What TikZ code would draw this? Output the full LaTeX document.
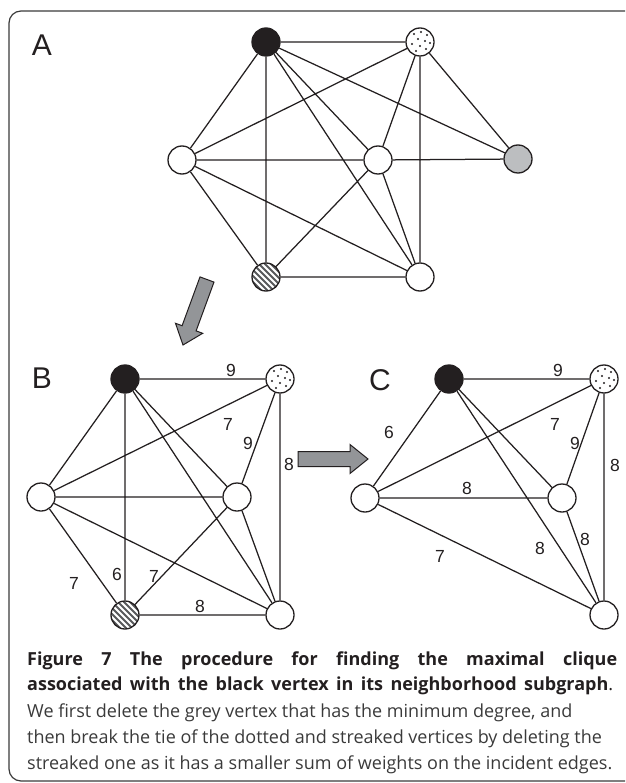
\documentclass[tikz,border=0pt]{standalone}
\usepackage{fontspec}
\setmainfont{Liberation Sans}
\newfontfamily\capfont{Open Sans}
\usetikzlibrary{calc}
\definecolor{ink}{HTML}{231F20}
\definecolor{vgrey}{HTML}{BCBEC0}
\definecolor{agrey}{HTML}{939598}
\definecolor{txtgrey}{HTML}{3A3A3A}
\definecolor{stripec}{HTML}{58595B}
\definecolor{framec}{HTML}{3A3A3A}
\tikzset{
  vtx/.style={circle, draw=ink, line width=1.3pt, minimum size=28pt, inner sep=0pt, fill=white},
  blackv/.style={vtx, fill=ink},
  greyv/.style={vtx, fill=vgrey},
  dotv/.style={vtx, path picture={
      \foreach \dx/\dy in {-6/-8,1/-10,7/-7,-2/-3,5/-1,10/1,-8/2,0/4,-4/9,6/7}{
        \fill[ink] ($(path picture bounding box.center)+(\dx,\dy)$) circle (1.05pt);}}},
  strv/.style={vtx, path picture={
      \foreach \d in {-30,-24,...,30}{
        \draw[stripec, line width=1.9pt] ($(path picture bounding box.center)+(\d-20,-20)$) -- ++(40,40);}}},
  edge/.style={draw=ink, line width=1.25pt},
  wlab/.style={font=\fontsize{17.5}{20}\selectfont, text=ink, inner sep=0pt},
  panel/.style={font=\fontsize{30}{34}\selectfont, text=ink, inner sep=0pt},
  bigarrow/.style={fill=agrey, draw=ink, line width=1pt, line join=miter},
  capline/.style={anchor=base west, inner sep=0pt, font=\capfont\fontsize{18}{21}\selectfont},
}
\begin{document}
\begin{tikzpicture}[x=1pt,y=-1pt]
\useasboundingbox (0,0) rectangle (625,783);
\clip (0,0) rectangle (625,783);
% frame
\draw[framec, line width=1.2pt, rounded corners=12pt] (9,11) rectangle (680,781);

% ---------- panel A ----------
\node[panel] (labA) at (42,45) {A};
\node[blackv] (a1) at (266,42) {};
\node[dotv]   (a2) at (420,42) {};
\node[vtx]    (a3) at (182,160) {};
\node[vtx]    (a4) at (378,160) {};
\node[greyv]  (a5) at (518,159) {};
\node[strv]   (a6) at (266,277) {};
\node[vtx]    (a7) at (420,277) {};
\path[edge] (a1) -- (a2) (a1) -- (a3) (a1) -- (a6) (a1) -- (a4) (a1) -- (a7) (a1) -- (a5)
  (a2) -- (a3) (a2) -- (a4) (a2) -- (a7) (a2) -- (a5)
  (a3) -- (a4) (a3) -- (a6) (a3) -- (a7)
  (a4) -- (a5) (a4) -- (a6) (a4) -- (a7)
  (a6) -- (a7);

% arrow A -> B
\draw[bigarrow] (214.0,282.1) -- (196.1,330.9) -- (202.7,333.3) -- (183,345) -- (175.5,323.3) -- (182.1,325.7) -- (200,276.9) -- cycle;

% ---------- panel B ----------
\node[panel] (labB) at (42,378) {B};
\node[blackv] (b1) at (125,379) {};
\node[dotv]   (b2) at (280,379) {};
\node[vtx]    (b3) at (41,497) {};
\node[vtx]    (b4) at (237,497) {};
\node[strv]   (b6) at (125,615) {};
\node[vtx]    (b7) at (280,615) {};
\path[edge] (b1) -- (b2) (b1) -- (b3) (b1) -- (b6) (b1) -- (b4) (b1) -- (b7)
  (b2) -- (b3) (b2) -- (b4) (b2) -- (b7)
  (b3) -- (b4) (b3) -- (b6) (b3) -- (b7)
  (b4) -- (b6) (b4) -- (b7)
  (b6) -- (b7);
\node[wlab] (wb12) at (231,370) {9};
\node[wlab] (wb23) at (228,424) {7};
\node[wlab] (wb24) at (248,443) {9};
\node[wlab] (wb27) at (289,464) {8};
\node[wlab] (wb36) at (74,583) {7};
\node[wlab] (wb16) at (117,574) {6};
\node[wlab] (wb46) at (154,576) {7};
\node[wlab] (wb67) at (200,606) {8};

% arrow B -> C
\draw[bigarrow] (298,451.5) -- (350,451.5) -- (350,444.5) -- (368,459) -- (350,473.5) -- (350,466.5) -- (298,466.5) -- cycle;

% ---------- panel C ----------
\node[panel] (labC) at (380,380) {C};
\node[blackv] (c1) at (449,379) {};
\node[dotv]   (c2) at (604,379) {};
\node[vtx]    (c3) at (365,498) {};
\node[vtx]    (c4) at (562,498) {};
\node[vtx]    (c7) at (604,615) {};
\path[edge] (c1) -- (c2) (c1) -- (c3) (c1) -- (c4) (c1) -- (c7)
  (c2) -- (c3) (c2) -- (c4) (c2) -- (c7)
  (c3) -- (c4) (c3) -- (c7)
  (c4) -- (c7);
\node[wlab] (wc12) at (558,370) {9};
\node[wlab] (wc13) at (389,432) {6};
\node[wlab] (wc23) at (555,424) {7};
\node[wlab] (wc24) at (575,443) {9};
\node[wlab] (wc27) at (615,465) {8};
\node[wlab] (wc34) at (467,488) {8};
\node[wlab] (wc37) at (440,556) {7};
\node[wlab] (wc17) at (540,548) {8};
\node[wlab] (wc47) at (585,539) {8};

% ---------- caption ----------
\node[capline, text=ink] (cap1) at (27,665) {\bfseries\makebox[590pt][s]{Figure 7 The procedure for finding the maximal clique}};
\node[capline, text=ink] (cap2) at (27,690) {\bfseries\makebox[586pt][s]{associated with the black vertex in its neighborhood subgraph\mdseries.}};
\node[capline, text=txtgrey] (cap3) at (27,717) {We first delete the grey vertex that has the minimum degree, and};
\node[capline, text=txtgrey] (cap4) at (27,743) {then break the tie of the dotted and streaked vertices by deleting the};
\node[capline, text=txtgrey] (cap5) at (27,769) {streaked one as it has a smaller sum of weights on the incident edges.};
\end{tikzpicture}
\end{document}
